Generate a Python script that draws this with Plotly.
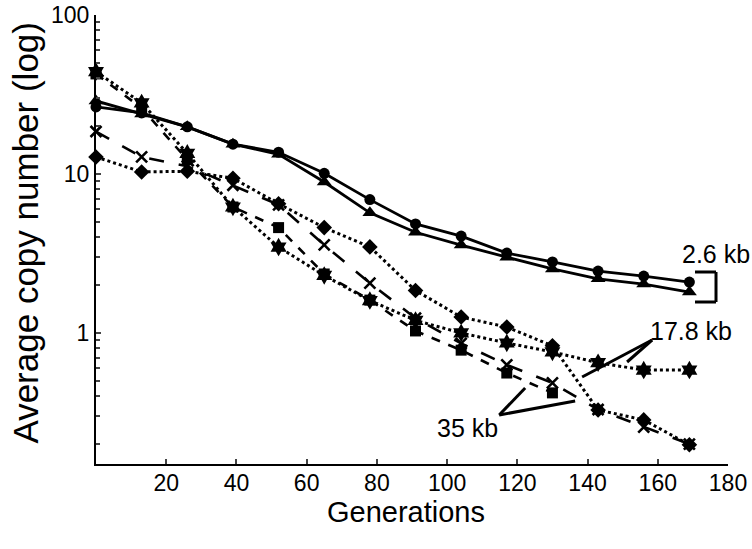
import plotly.graph_objects as go

generations = [0, 13, 26, 39, 52, 65, 78, 91, 104, 117, 130, 143, 156, 169]

circle_2_6kb = [26.4, 24.2, 19.8, 15.4, 13.7, 10.1, 6.9, 4.85, 4.07, 3.18, 2.8, 2.45, 2.28, 2.09]
triangle_2_6kb = [28.8, 23.8, 19.8, 15.4, 13.3, 8.9, 5.7, 4.3, 3.57, 3.0, 2.53, 2.19, 2.03, 1.81]
diamond_17_8kb = [12.8, 10.3, 10.4, 9.4, 6.5, 4.6, 3.48, 1.85, 1.26, 1.09, 0.83, 0.328, 0.284, 0.198]
star_17_8kb = [44.0, 28.0, 13.5, 6.2, 3.47, 2.3, 1.6, 1.2, 1.0, 0.865, 0.76, 0.65, 0.585, 0.585]
x_35kb = [18.5, 12.8, 11.2, 8.5, 6.4, 3.58, 2.06, 1.24, 0.86, 0.63, 0.485, 0.33, 0.256, 0.2]
square_35kb = [42.6, 26.0, 12.3, 6.2, 4.6, 2.35, 1.61, 1.03, 0.78, 0.56, 0.42]

x_ticks = [20, 40, 60, 80, 100, 120, 140, 160, 180]
y_ticks = [1, 10, 100]
y_minor = [m * d for d in (0.1, 1, 10) for m in range(2, 10)]

FONT = "Liberation Sans, Arial, sans-serif"

fig = go.Figure()

def add(y, symbol, size, dash, width, xs=generations, lw=0):
    fig.add_trace(go.Scatter(
        x=xs[:len(y)], y=y, mode="lines+markers",
        line=dict(color="black", width=width, dash=dash),
        marker=dict(symbol=symbol, size=size, color="black",
                    line=dict(color="black", width=lw)),
        showlegend=False, cliponaxis=False))

add(circle_2_6kb, "circle", 11, "solid", 2.8)
add(triangle_2_6kb, "triangle-up", 13, "solid", 2.8)
add(diamond_17_8kb, "diamond", 12, "dot", 3)
add(star_17_8kb, "hexagram", 14, "dot", 3)
add(square_35kb, "square", 11, "dash", 2.6)
add(x_35kb, "x-thin", 11, "longdash", 2.6, lw=2.6)

# layout geometry in paper coords
def px(xp):
    return (xp - 95.5) / 632.5

def py(yp):
    return (464 - yp) / 449

shapes = []
def seg(x0, y0, x1, y1, w=3):
    shapes.append(dict(type="line", xref="paper", yref="paper",
                       x0=px(x0), y0=py(y0), x1=px(x1), y1=py(y1),
                       line=dict(color="black", width=w)))

# bracket for 2.6 kb
seg(695, 272, 716, 272)
seg(716, 272, 716, 302)
seg(716, 302, 695, 302)
# 17.8 kb pointer
seg(652, 340, 582, 377)
seg(652, 340, 627, 362)
# 35 kb pointer
seg(499, 415, 525, 388)
seg(499, 415, 575, 401)

annotations = [
    dict(text="2.6 kb", x=px(716), y=py(254)),
    dict(text="17.8 kb", x=px(691), y=py(331)),
    dict(text="35 kb", x=px(467), y=py(428)),
    dict(text="Average copy number (log)", x=px(24), y=py(233), textangle=-90,
         font=dict(family=FONT, size=35, color="black")),
    dict(text="Generations", x=px(406), y=py(512),
         font=dict(family=FONT, size=29, color="black")),
]
for a in annotations:
    a.update(xref="paper", yref="paper", showarrow=False,
             xanchor="center", yanchor="middle")
    a.setdefault("font", dict(family=FONT, size=25, color="black"))

fig.update_layout(
    width=752, height=549,
    margin=dict(l=95.5, r=24, t=15, b=85),
    plot_bgcolor="white", paper_bgcolor="white",
    font=dict(family=FONT, color="black"),
    shapes=shapes, annotations=annotations,
    xaxis=dict(range=[0, 180], tickvals=x_ticks, ticks="inside", ticklen=5,
               tickwidth=2, showline=True, linecolor="black", linewidth=2,
               showgrid=False, zeroline=False, automargin=False,
               ticklabelstandoff=-3,
               tickfont=dict(family=FONT, size=23)),
    yaxis=dict(type="log", range=[-0.824, 2], tickvals=y_ticks, ticktext=["1", "10", "100"],
               ticks="inside", ticklen=5, tickwidth=2,
               minor=dict(tickvals=y_minor, ticks="inside", ticklen=4, tickwidth=1.5, showgrid=False),
               showline=True, linecolor="black", linewidth=2,
               showgrid=False, zeroline=False, automargin=False,
               tickfont=dict(family=FONT, size=23)),
)

fig.write_html("out.html")
